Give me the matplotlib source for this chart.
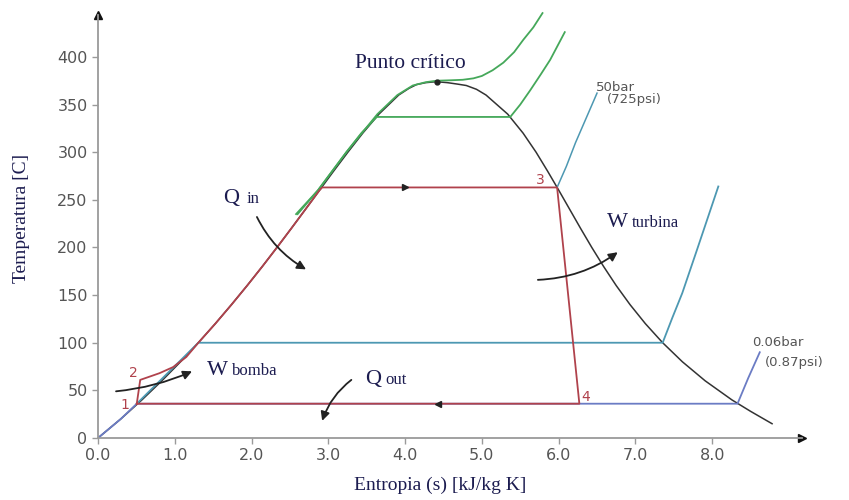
"""Diagrama T-s del ciclo Rankine (agua) con isobaras."""
import matplotlib
matplotlib.use("Agg")
import matplotlib.pyplot as plt

dome_s = [0.0, 0.297, 0.572, 0.831, 1.075, 1.307, 1.528, 1.739, 1.943, 2.140, 2.331,
          2.518, 2.702, 2.885, 3.068, 3.255, 3.449, 3.660, 3.917, 4.05, 4.15, 4.27,
          4.407, 4.55, 4.68, 4.797, 4.93, 5.054, 5.336, 5.537, 5.706, 5.857, 6.002,
          6.144, 6.286, 6.432, 6.586, 6.750, 6.930, 7.130, 7.355, 7.612, 7.909,
          8.257, 8.50, 8.78]
dome_T = [0, 20, 40, 60, 80, 100, 120, 140, 160, 180, 200,
          220, 240, 260, 280, 300, 320, 340, 360, 367, 371, 373,
          374, 373, 371.5, 370, 366, 360, 340, 320, 300, 280, 260,
          240, 220, 200, 180, 160, 140, 120, 100, 80, 60,
          40, 28, 15]

# 0.06 bar
p006_s = [0.0, 0.297, 0.505, 8.33, 8.47, 8.62]
p006_T = [0, 20, 36, 36, 63, 90]
# 1 bar
p1_s = [0.505, 1.307, 7.355, 7.48, 7.61, 7.80, 8.08]
p1_T = [36, 100, 100, 126, 152, 197, 264]
# 50 bar
p50_s = [5.98, 6.10, 6.22, 6.36, 6.50]
p50_T = [263, 285, 310, 336, 362]
# ~140 bar
p140_s = [2.60, 2.865, 3.05, 3.235, 3.43, 3.63, 5.37, 5.50, 5.63, 5.77, 5.89, 6.08]
p140_T = [235, 260, 280, 300, 320, 337, 337, 350, 365, 382, 397, 426]
# presión crítica
pcr_s = [2.58, 2.865, 3.235, 3.64, 3.90, 4.10, 4.27, 4.41, 4.60, 4.75, 4.89, 5.00,
         5.14, 5.28, 5.42, 5.54, 5.67, 5.79]
pcr_T = [235, 260, 300, 340, 360, 370, 373.5, 375, 375.5, 376, 377.5, 380,
         386, 394, 405, 418, 431, 446]

# ciclo 1-2-3-4
cyc_s = [0.505, 0.55, 0.80, 0.98, 1.15, 1.307, 1.528, 1.739, 1.943, 2.140, 2.331,
         2.518, 2.702, 2.885, 2.92, 5.98, 6.27, 0.505]
cyc_T = [36, 61, 68, 74.5, 85, 100, 120, 140, 160, 180, 200,
         220, 240, 260, 263, 263, 36, 36]
pt_labels = ["1", "2", "3", "4"]
pt_s = [0.35, 0.46, 5.76, 6.35]
pt_T = [35, 68, 271, 43]

xticks = [0, 1, 2, 3, 4, 5, 6, 7, 8]
yticks = [0, 50, 100, 150, 200, 250, 300, 350, 400]

RED = "#b0424c"
GREEN = "#45a85a"
TEAL = "#4d98b2"
BLUE = "#6b7cc4"
NAVY = "#1c1c50"
SERIF = "Liberation Serif"

fig = plt.figure(figsize=(8.49, 5.0), dpi=100)
ax = fig.add_axes([98 / 849, 62 / 500, 704 / 849, 423 / 500])
ax.set_xlim(0, 9.17)
ax.set_ylim(0, 444)

ax.plot(dome_s, dome_T, color="#333333", lw=1.1)
ax.plot(p006_s, p006_T, color=BLUE, lw=1.3)
ax.plot(p1_s, p1_T, color=TEAL, lw=1.3)
ax.plot(p50_s, p50_T, color=TEAL, lw=1.1)
ax.plot(p140_s, p140_T, color=GREEN, lw=1.3)
ax.plot(pcr_s, pcr_T, color=GREEN, lw=1.3, clip_on=False)
ax.plot(cyc_s, cyc_T, color=RED, lw=1.3)
ax.plot([4.41], [374], "o", color="#222222", ms=3.5)

# flechas de dirección sobre el ciclo
ax.plot([4.0], [263], marker=">", color="#222222", ms=5)
ax.plot([4.43], [36], marker="<", color="#222222", ms=5)

for lab, s, t in zip(pt_labels, pt_s, pt_T):
    ax.text(s, t, lab, color=RED, fontsize=10, ha="center", va="center")

# etiquetas de isobaras
ax.text(6.48, 368, "50bar", fontsize=9.5, color="#555555", va="center")
ax.text(6.63, 355, "(725psi)", fontsize=9.5, color="#555555", va="center")
ax.text(8.52, 100, "0.06bar", fontsize=9.5, color="#555555", va="center")
ax.text(8.69, 79, "(0.87psi)", fontsize=9.5, color="#555555", va="center")

ax.text(3.35, 388, "Punto crítico", family=SERIF, fontsize=15.5, color=NAVY, va="baseline")

# textos de calor / trabajo
def qw(x_big, x_small, y, big, small):
    ax.text(x_big, y, big, family=SERIF, fontsize=16, color=NAVY, va="baseline")
    ax.text(x_small, y, small, family=SERIF, fontsize=12, color=NAVY, va="baseline")

qw(1.63, 1.93, 247, "Q", "in")
qw(1.42, 1.74, 66, "W", "bomba")
qw(3.48, 3.74, 57, "Q", "out")
qw(6.63, 6.95, 221, "W", "turbina")

def flecha(p0, p1, rad):
    ax.annotate("", xy=p1, xytext=p0,
                arrowprops=dict(arrowstyle="-|>", color="#222222", lw=1.3,
                                mutation_scale=13, shrinkA=0, shrinkB=0,
                                connectionstyle=f"arc3,rad={rad}"))

flecha((2.07, 232), (2.71, 177), 0.15)
flecha((3.30, 61), (2.92, 18), 0.15)
flecha((0.235, 49), (1.225, 70), 0.08)
flecha((5.73, 166), (6.77, 195), 0.15)

# ejes
for side in ("top", "right"):
    ax.spines[side].set_visible(False)
for side in ("left", "bottom"):
    ax.spines[side].set_color("#9a9a9a")
    ax.spines[side].set_linewidth(1.3)
ax.plot(1, 0, ">", color="#111111", ms=6, transform=ax.transAxes, clip_on=False)
ax.plot(0, 1, "^", color="#111111", ms=6, transform=ax.transAxes, clip_on=False)

ax.set_xticks(xticks)
ax.set_xticklabels([f"{v:.1f}" for v in xticks])
ax.set_yticks(yticks)
ax.tick_params(colors="#9a9a9a", labelcolor="#555555", labelsize=11.5, length=4, width=1)

ax.set_xlabel("Entropia (s) [kJ/kg K]", family=SERIF, fontsize=14, color=NAVY, va="center")
ax.set_ylabel("Temperatura [C]", family=SERIF, fontsize=14, color=NAVY, va="center")
ax.xaxis.set_label_coords(0.486, -0.113)
ax.yaxis.set_label_coords(-0.108, 0.52)

fig.savefig("out.png", dpi=100)
